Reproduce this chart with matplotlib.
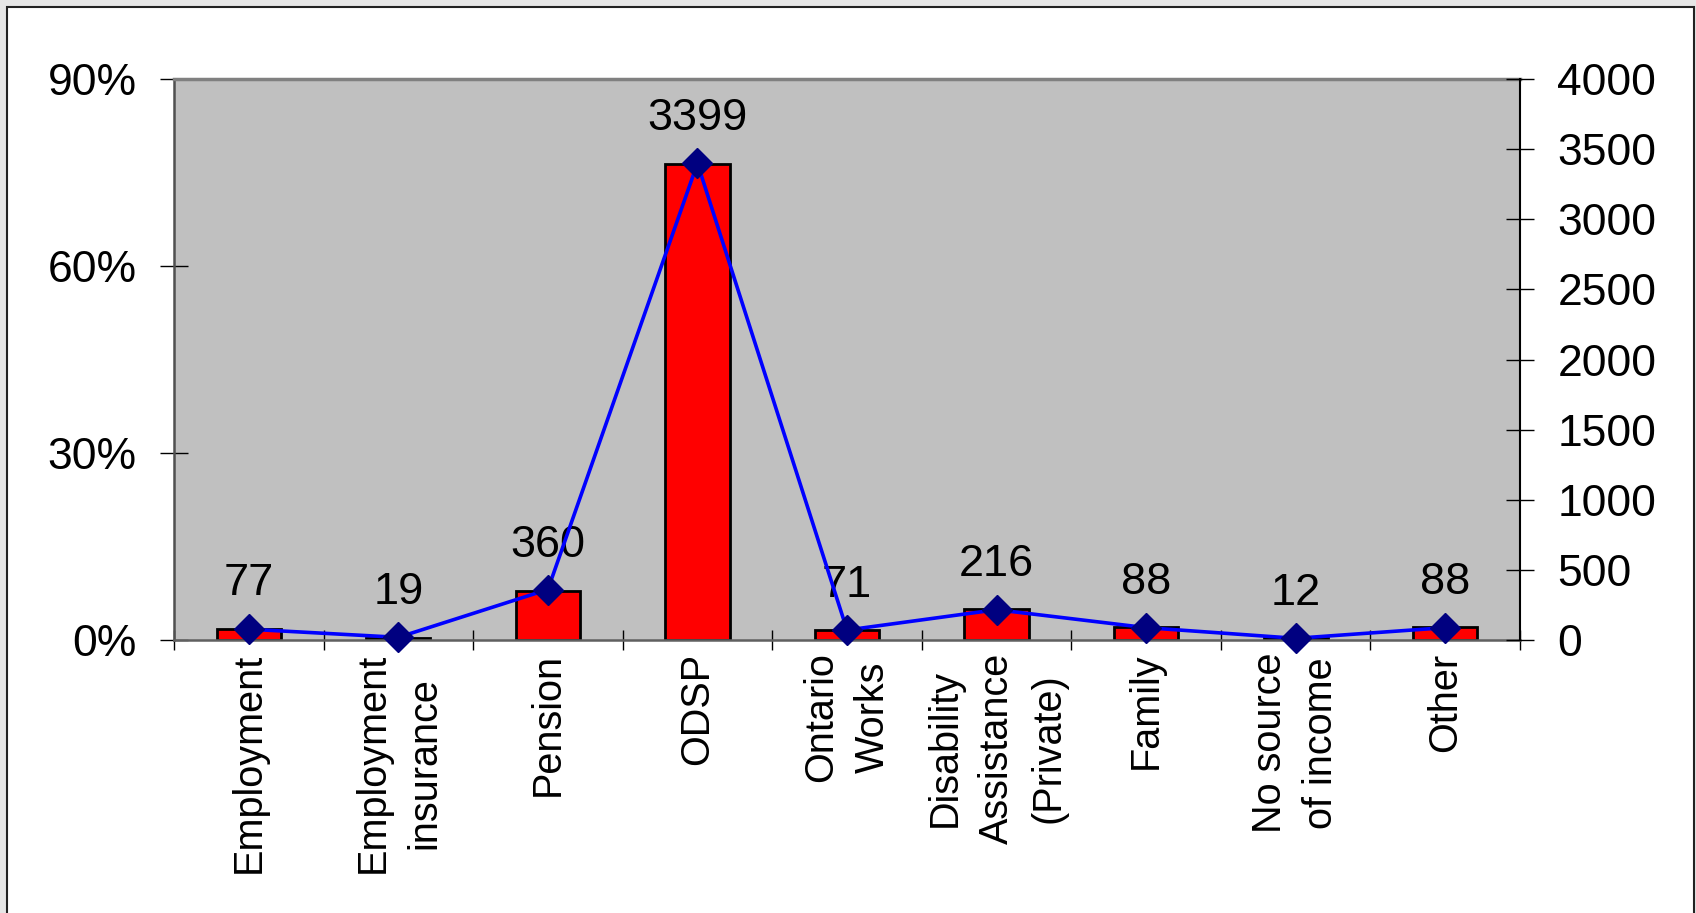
import matplotlib
matplotlib.use("Agg")
import matplotlib.pyplot as plt
from matplotlib.patches import Rectangle
from matplotlib.ticker import FixedLocator, FixedFormatter

plt.rcParams['font.family'] = ['Liberation Sans', 'DejaVu Sans']

# income sources
categories = ["Employment", "Employment\ninsurance", "Pension", "ODSP",
              "Ontario\nWorks", "Disability\nAssistance\n(Private)", "Family",
              "No source\nof income", "Other"]
# number of people (right axis, line + labels)
counts = [77, 19, 360, 3399, 71, 216, 88, 12, 88]
# share of people in percent (left axis, bars)
percents = [1.8, 0.4, 7.9, 76.4, 1.6, 5.0, 2.1, 0.3, 2.1]

left_ticks = [0, 30, 60, 90]
left_labels = ["0%", "30%", "60%", "90%"]
right_ticks = [0, 500, 1000, 1500, 2000, 2500, 3000, 3500, 4000]

fig = plt.figure(figsize=(16.96, 9.13), dpi=100)
fig.patch.set_facecolor("#e6e6e6")
# white chart area with a dark border
fig.patches.append(Rectangle((7 / 1696, -0.05), (1694 - 7) / 1696, 1.05 - 7 / 913,
                             transform=fig.transFigure, facecolor="white",
                             edgecolor="#222222", linewidth=1.5, zorder=-5))

ax = fig.add_axes([174 / 1696, 1 - 640 / 913, (1520 - 174) / 1696, (640 - 79) / 913])
ax.set_facecolor("#c0c0c0")
x = list(range(len(categories)))

ax.bar(x, percents, width=0.43, color="#ff0000", edgecolor="black", linewidth=2, zorder=2)
ax.set_xlim(-0.5, len(categories) - 0.5)
ax.set_ylim(0, 90)

# data labels above the bars
for xi, p, c in zip(x, percents, counts):
    ax.annotate(str(c), (xi, p), xytext=(0, 24), textcoords="offset points",
                ha="center", va="baseline", fontsize=32.5, zorder=5)

# y axis (left)
ax.set_yticks(left_ticks)
ax.set_yticklabels(left_labels)
ax.tick_params(axis="y", direction="inout", length=20, width=1, labelsize=32, pad=17)

# x axis: ticks between categories, labels at centers
ax.xaxis.set_major_locator(FixedLocator([i - 0.5 for i in range(len(categories) + 1)]))
ax.xaxis.set_major_formatter(FixedFormatter([""] * (len(categories) + 1)))
ax.xaxis.set_minor_locator(FixedLocator(x))
ax.xaxis.set_minor_formatter(FixedFormatter(categories))
ax.tick_params(axis="x", which="major", direction="inout", length=14, width=1)
ax.tick_params(axis="x", which="minor", length=0, pad=9, labelsize=28.5)
for lab in ax.xaxis.get_minorticklabels():
    lab.set_rotation(90)
    lab.set_va("top")
    lab.set_ha("center")
    lab.set_multialignment("center")
    lab.set_linespacing(1.45)

ax.spines["top"].set_color("#808080")
ax.spines["top"].set_linewidth(2.5)
ax.spines["left"].set_color("#505050")
ax.spines["left"].set_linewidth(1.8)
ax.spines["bottom"].set_color("#606060")
ax.spines["bottom"].set_linewidth(1.8)
ax.spines["right"].set_visible(False)

# counts on the right axis
ax2 = ax.twinx()
ax2.plot(x, counts, color="#0000ff", linewidth=2.6, marker="D", markersize=15,
         markerfacecolor="#000080", markeredgecolor="#000080", zorder=4, clip_on=False)
ax2.set_ylim(0, 4000)
ax2.set_yticks(right_ticks)
ax2.tick_params(axis="y", direction="inout", length=20, width=1, labelsize=32, pad=17)
ax2.spines["right"].set_color("black")
ax2.spines["right"].set_linewidth(1.5)
for s in ["top", "left", "bottom"]:
    ax2.spines[s].set_visible(False)

fig.savefig("out.png", dpi=100, facecolor=fig.get_facecolor())
